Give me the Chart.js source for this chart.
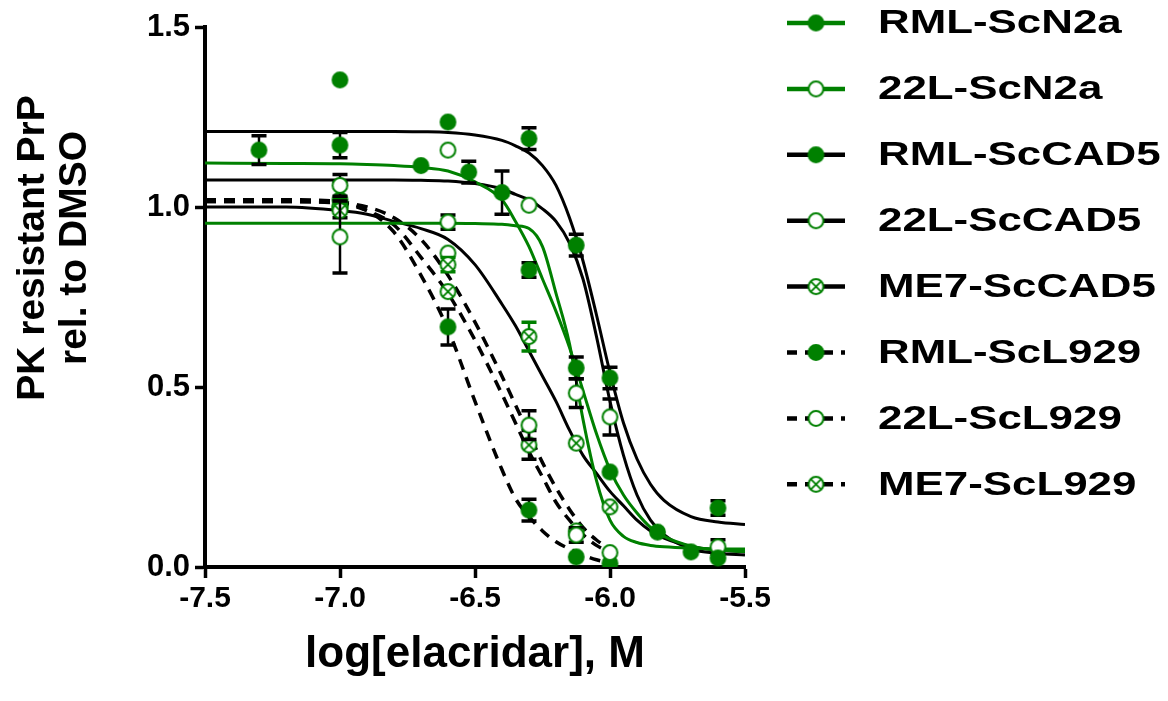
<!DOCTYPE html>
<html>
<head>
<meta charset="utf-8">
<script src="https://cdn.jsdelivr.net/npm/chart.js@4"></script>
<style>
  html, body { margin: 0; padding: 0; background: #fff; }
  #chart { display: block; }
</style>
</head>
<body>
<canvas id="chart" width="1168" height="701"></canvas>
<script>
const GREEN = '#008000';
const BLACK = '#000000';
const FONT = "'Liberation Sans', Arial, sans-serif";

// x ticks / y ticks
const xTicks = [-7.5, -7.0, -6.5, -6.0, -5.5];
const yTicks = [0.0, 0.5, 1.0, 1.5];

// fitted curves
const fitX = [-7.5, -7.2, -7.0, -6.9, -6.8, -6.7, -6.6, -6.5, -6.4, -6.35, -6.3, -6.25, -6.2, -6.15, -6.1, -6.05, -6.0, -5.95, -5.9, -5.85, -5.8, -5.7, -5.6, -5.5];
const fitRmlN2a  = [1.122, 1.121, 1.12, 1.118, 1.115, 1.11, 1.10, 1.07, 1.02, 0.96, 0.89, 0.80, 0.71, 0.61, 0.49, 0.37, 0.27, 0.20, 0.15, 0.11, 0.085, 0.058, 0.047, 0.043];
const fit22LN2a  = [0.955, 0.955, 0.955, 0.955, 0.955, 0.955, 0.955, 0.954, 0.952, 0.948, 0.94, 0.89, 0.76, 0.62, 0.41, 0.24, 0.13, 0.085, 0.068, 0.06, 0.056, 0.052, 0.05, 0.05];
const fitRmlCad5 = [1.21, 1.21, 1.21, 1.21, 1.21, 1.209, 1.207, 1.20, 1.185, 1.17, 1.15, 1.115, 1.06, 0.97, 0.85, 0.70, 0.54, 0.40, 0.30, 0.23, 0.185, 0.14, 0.125, 0.118];
const fit22LCad5 = [1.075, 1.075, 1.075, 1.075, 1.075, 1.074, 1.072, 1.065, 1.05, 1.035, 1.02, 0.995, 0.96, 0.90, 0.80, 0.64, 0.46, 0.31, 0.20, 0.13, 0.09, 0.05, 0.038, 0.033];
const fitMe7Cad5 = [1.0, 1.0, 0.99, 0.98, 0.96, 0.94, 0.91, 0.84, 0.73, 0.67, 0.60, 0.53, 0.46, 0.38, 0.31, 0.26, 0.21, 0.17, 0.13, 0.10, 0.08, 0.057, 0.047, 0.042];
// L929 curves stop at -6.0
const fitRmlL929 = [1.02, 1.02, 1.015, 0.99, 0.93, 0.81, 0.66, 0.46, 0.27, 0.19, 0.14, 0.10, 0.07, 0.05, 0.033, 0.02, 0.012];
const fit22LL929 = [1.015, 1.015, 1.012, 1.0, 0.97, 0.91, 0.81, 0.68, 0.53, 0.45, 0.37, 0.29, 0.22, 0.16, 0.11, 0.075, 0.05];
const fitMe7L929 = [1.015, 1.015, 1.01, 0.99, 0.95, 0.86, 0.76, 0.63, 0.48, 0.40, 0.32, 0.25, 0.18, 0.13, 0.09, 0.06, 0.04];

// measured points (mean, error)
const rmlN2aX   = [-7.3, -7.0, -6.7, -6.523, -6.4, -6.3, -6.125, -6.0, -5.824, -5.7, -5.6];
const rmlN2aY   = [1.158, 1.353, 1.115, 1.097, 1.04, 0.825, 0.553, 0.264, 0.097, 0.042, 0.025];
const rmlN2aErr = [0.04, 0, 0, 0.03, 0.06, 0.02, 0.03, 0, 0, 0, 0];

const l22N2aX   = [-7.0, -6.6, -6.125, -6.0];
const l22N2aY   = [0.917, 0.958, 0.483, 0.04];
const l22N2aErr = [0.1, 0.02, 0.04, 0];

const rmlCad5X   = [-7.0, -6.6, -6.3, -6.125, -6.0, -5.6];
const rmlCad5Y   = [1.172, 1.236, 1.19, 0.894, 0.525, 0.164];
const rmlCad5Err = [0.035, 0, 0.03, 0.03, 0.03, 0.02];

const l22Cad5X   = [-7.0, -6.6, -6.3, -6.0, -5.6];
const l22Cad5Y   = [1.06, 1.158, 1.005, 0.417, 0.056];
const l22Cad5Err = [0.03, 0, 0, 0.05, 0.02];

const me7Cad5X   = [-7.0, -6.6, -6.3, -6.125, -6.0];
const me7Cad5Y   = [0.99, 0.84, 0.64, 0.344, 0.167];
const me7Cad5Err = [0, 0.02, 0.04, 0, 0];

const rmlL929X   = [-7.0, -6.6, -6.3, -6.125, -6.0];
const rmlL929Y   = [1.02, 0.667, 0.158, 0.028, 0.01];
const rmlL929Err = [0.05, 0.05, 0.03, 0, 0];

const l22L929X   = [-7.0, -6.6, -6.3, -6.125];
const l22L929Y   = [1.0, 0.872, 0.394, 0.089];
const l22L929Err = [0, 0, 0.04, 0.02];

const me7L929X   = [-7.0, -6.6, -6.3, -6.125];
const me7L929Y   = [1.0, 0.765, 0.339, 0.1];
const me7L929Err = [0, 0, 0.04, 0];

// ======================
// MARKERS
// ======================

function makeMarker(kind){
  const c = document.createElement('canvas');
  c.width = 19; c.height = 19;
  const g = c.getContext('2d');
  g.beginPath();
  g.arc(9.5, 9.5, 7.4, 0, Math.PI * 2);
  g.fillStyle = kind === 'filled' ? GREEN : '#ffffff';
  g.fill();
  g.lineWidth = 2;
  g.strokeStyle = GREEN;
  g.stroke();
  if (kind === 'cross') {
    const d = 4.9;
    g.beginPath();
    g.moveTo(9.5 - d, 9.5 - d); g.lineTo(9.5 + d, 9.5 + d);
    g.moveTo(9.5 + d, 9.5 - d); g.lineTo(9.5 - d, 9.5 + d);
    g.lineWidth = 1.8;
    g.stroke();
  }
  return c;
}

const markers = {
  filled: makeMarker('filled'),
  open: makeMarker('open'),
  cross: makeMarker('cross')
};

const series = [
  { label: 'RML-ScN2a',  line: GREEN, dash: [],      marker: 'filled', fit: fitRmlN2a,  x: rmlN2aX,  y: rmlN2aY,  err: rmlN2aErr,  errColor: BLACK },
  { label: '22L-ScN2a',  line: GREEN, dash: [],      marker: 'open',   fit: fit22LN2a,  x: l22N2aX,  y: l22N2aY,  err: l22N2aErr,  errColor: BLACK },
  { label: 'RML-ScCAD5', line: BLACK, dash: [],      marker: 'filled', fit: fitRmlCad5, x: rmlCad5X, y: rmlCad5Y, err: rmlCad5Err, errColor: BLACK },
  { label: '22L-ScCAD5', line: BLACK, dash: [],      marker: 'open',   fit: fit22LCad5, x: l22Cad5X, y: l22Cad5Y, err: l22Cad5Err, errColor: BLACK },
  { label: 'ME7-ScCAD5', line: BLACK, dash: [],      marker: 'cross',  fit: fitMe7Cad5, x: me7Cad5X, y: me7Cad5Y, err: me7Cad5Err, errColor: GREEN },
  { label: 'RML-ScL929', line: BLACK, dash: [11, 8], marker: 'filled', fit: fitRmlL929, x: rmlL929X, y: rmlL929Y, err: rmlL929Err, errColor: BLACK },
  { label: '22L-ScL929', line: BLACK, dash: [11, 8], marker: 'open',   fit: fit22LL929, x: l22L929X, y: l22L929Y, err: l22L929Err, errColor: BLACK },
  { label: 'ME7-ScL929', line: BLACK, dash: [11, 8], marker: 'cross',  fit: fitMe7L929, x: me7L929X, y: me7L929Y, err: me7L929Err, errColor: BLACK }
];

// ======================
// DATASETS
// ======================

const datasets = [];

series.forEach(s => {
  datasets.push({
    label: s.label + ' fit',
    data: s.fit.map((v, i) => ({ x: fitX[i], y: v })),
    showLine: true,
    borderColor: s.line,
    borderWidth: s.dash.length ? 3.5 : 3,
    borderDash: s.dash,
    cubicInterpolationMode: 'monotone',
    pointRadius: 0,
    order: 2
  });
});

series.forEach(s => {
  datasets.push({
    label: s.label,
    data: s.x.map((v, i) => ({ x: v, y: s.y[i] })),
    showLine: false,
    pointStyle: markers[s.marker],
    pointRadius: 8,
    err: s.err,
    errColor: s.errColor,
    order: 1
  });
});

// ======================
// PLUGINS
// ======================

// error bars under each point dataset
const errorBars = {
  id: 'errorBars',
  beforeDatasetDraw(chart, args){
    const ds = chart.data.datasets[args.index];
    if (!ds.err) return;
    const { ctx, scales: { x, y } } = chart;
    ctx.save();
    ctx.strokeStyle = ds.errColor;
    ds.data.forEach((p, i) => {
      const e = ds.err[i];
      if (!e) return;
      const px = x.getPixelForValue(p.x);
      const top = y.getPixelForValue(p.y + e);
      const bot = y.getPixelForValue(p.y - e);
      ctx.lineWidth = 2.5;
      ctx.beginPath();
      ctx.moveTo(px, top); ctx.lineTo(px, bot);
      ctx.stroke();
      ctx.lineWidth = 3.5;
      ctx.beginPath();
      ctx.moveTo(px - 7.5, top); ctx.lineTo(px + 7.5, top);
      ctx.moveTo(px - 7.5, bot); ctx.lineTo(px + 7.5, bot);
      ctx.stroke();
    });
    ctx.restore();
  }
};

// y title sits a bit above the middle of the axis
const yTitle = {
  id: 'yTitle',
  afterDraw(chart){
    const ctx = chart.ctx;
    ctx.save();
    ctx.fillStyle = BLACK;
    ctx.font = 'bold 39px ' + FONT;
    ctx.textAlign = 'center';
    ctx.textBaseline = 'middle';
    ctx.translate(33, 248);
    ctx.rotate(-Math.PI / 2);
    ctx.fillText('PK resistant PrP', 0, 0);
    ctx.fillText('rel. to DMSO', 0, 42);
    ctx.restore();
  }
};

// legend on the right: line + marker + label
const sideLegend = {
  id: 'sideLegend',
  afterDraw(chart){
    const ctx = chart.ctx;
    series.forEach((s, i) => {
      const cy = 23 + i * 65.9;
      ctx.save();
      ctx.strokeStyle = s.line;
      ctx.lineWidth = 4.5;
      ctx.setLineDash(s.dash.length ? [10, 8] : []);
      ctx.beginPath();
      ctx.moveTo(787, cy); ctx.lineTo(845, cy);
      ctx.stroke();
      ctx.setLineDash([]);
      ctx.drawImage(markers[s.marker], 816 - 9.5, cy - 9.5);
      ctx.fillStyle = BLACK;
      ctx.font = 'bold 34px ' + FONT;
      ctx.textBaseline = 'middle';
      ctx.translate(878, cy + 1);
      ctx.scale(1.29, 1);
      ctx.fillText(s.label, 0, 0);
      ctx.restore();
    });
  }
};

// ======================
// CHART
// ======================

new Chart(document.getElementById('chart'), {
  type: 'scatter',
  data: { datasets },
  plugins: [errorBars, yTitle, sideLegend],
  options: {
    responsive: false,
    animation: false,
    layout: { padding: { left: 0, right: 423, top: 27, bottom: 0 } },
    plugins: {
      legend: { display: false },
      tooltip: { enabled: false }
    },
    scales: {
      x: {
        type: 'linear',
        min: -7.5,
        max: -5.5,
        afterFit: s => { s.height = 134; },
        afterBuildTicks: s => { s.ticks = xTicks.map(v => ({ value: v })); },
        ticks: {
          color: BLACK,
          font: { family: FONT, size: 30, weight: 'bold' },
          padding: 3,
          maxRotation: 0,
          callback: v => v.toFixed(1)
        },
        grid: { drawOnChartArea: false, drawTicks: true, tickLength: 11, tickWidth: 3.5, tickColor: BLACK },
        border: { display: true, width: 4, color: BLACK },
        title: {
          display: true,
          text: 'log[elacridar], M',
          color: BLACK,
          font: { family: FONT, size: 44, weight: 'bold', lineHeight: 1.1 },
          padding: { top: 0, bottom: 22 }
        }
      },
      y: {
        type: 'linear',
        min: 0,
        max: 1.5,
        afterFit: s => { s.width = 205; },
        afterBuildTicks: s => { s.ticks = yTicks.map(v => ({ value: v })); },
        ticks: {
          color: BLACK,
          font: { family: FONT, size: 31, weight: 'bold' },
          padding: 5,
          callback: v => v.toFixed(1)
        },
        grid: { drawOnChartArea: false, drawTicks: true, tickLength: 10, tickWidth: 3.5, tickColor: BLACK },
        border: { display: true, width: 4, color: BLACK },
        title: { display: false }
      }
    }
  }
});
</script>
</body>
</html>
